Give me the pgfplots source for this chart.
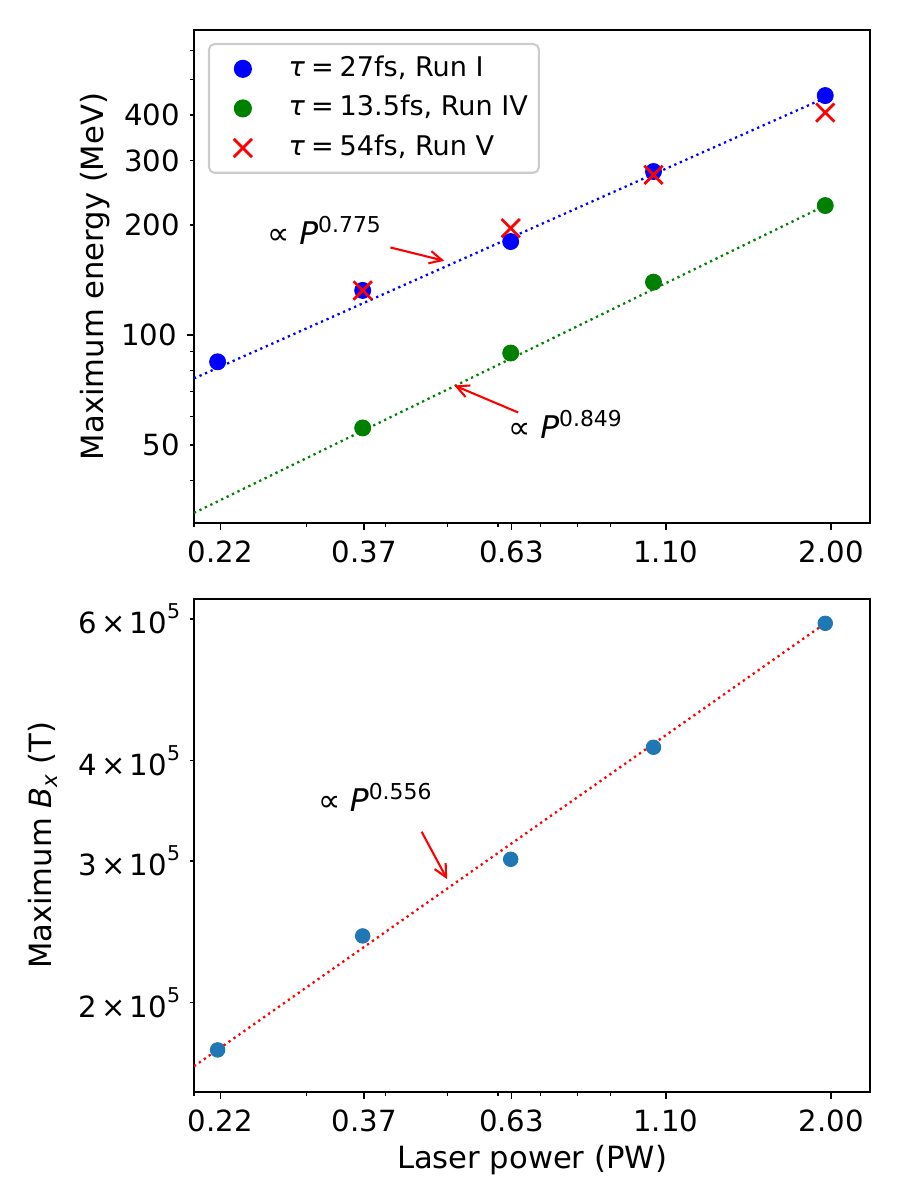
\documentclass[border=0pt]{standalone}
\usepackage{fontspec}
\setmainfont{DejaVu Sans}
\usepackage{pgfplots}
\pgfplotsset{compat=1.18}
\usetikzlibrary{arrows.meta}

\definecolor{mplgreen}{HTML}{008000}
\definecolor{mplblue}{HTML}{1F77B4}
\definecolor{legendedge}{HTML}{CCCCCC}

% raised / lowered small text for exponents and subscripts
\newcommand{\ticksup}[1]{\raisebox{0.5em}{\fontsize{9.8}{10}\selectfont #1}}
\newcommand{\annsup}[1]{\raisebox{0.4em}{\fontsize{10.5}{11}\selectfont #1}}
\newcommand{\ticksize}{\fontsize{14}{16.8}\selectfont}
\newcommand{\labelsize}{\fontsize{14.7}{17.6}\selectfont}
\newcommand{\notesize}{\fontsize{15}{18}\selectfont}

\tikzset{
  note arrow/.style={red, line width=1pt, -{Straight Barb[length=6pt,width=6pt]}},
  note/.style={font=\notesize, inner sep=0pt, anchor=base west},
}

\pgfplotsset{
  panel/.style={
    scale only axis, width=324.48pt, height=236.64pt,
    xmin=0.2, xmax=2.3,
    axis line style={line width=0.8pt},
    tick align=outside, tick pos=left,
    major tick length=3.5pt, minor tick length=2pt,
    tick style={black},
    major tick style={line width=0.8pt},
    minor tick style={line width=0.6pt},
    xtick={0.22,0.37,0.63,1.10,2.00},
    xticklabels={0.22,0.37,0.63,1.10,2.00},
    minor xtick={0.2,0.3,0.4,0.5,0.6,0.7,0.8,0.9},
    tick label style={font=\ticksize, inner sep=0pt},
    xticklabel shift=5pt, yticklabel shift=4.5pt,
    every axis x label/.style={at={(axis description cs:0.5,-0.1548)}, anchor=base, font=\labelsize, inner sep=0pt},
  },
  short labelled ticks/.style={
    major tick length=2pt, major tick style={line width=0.6pt},
  },
  fitline/.style={line width=1.1pt, dash pattern=on 1.1pt off 1.8pt, forget plot},
}

\begin{document}
\begin{tikzpicture}
\path[use as bounding box] (0,0) rectangle (432pt,576pt);

% ---- upper panel: maximum electron energy ----
\begin{loglogaxis}[panel,
  at={(93.12pt,324.96pt)}, anchor=south west,
  ymin=30.6, ymax=684,
  ytick={100}, yticklabels={100},
  extra y ticks={50,200,300,400},
  extra y tick labels={50,200,300,400},
  extra y tick style={short labelled ticks},
  minor ytick={40,60,70,80,90,500,600},
  ylabel={Maximum energy (MeV)},
  every axis y label/.style={at={(axis description cs:-0.1243,0.5)}, rotate=90, anchor=south, font=\labelsize, inner sep=0pt},
  legend style={
    at={(0.0207,0.9736)}, anchor=north west,
    font=\fontsize{13}{15.6}\selectfont,
    draw=legendedge, line width=1pt,
    fill=white, fill opacity=0.8, text opacity=1, draw opacity=1,
    rounded corners=2.6pt,
    inner xsep=3.24pt, inner ysep=3.4pt,
    column sep=7pt, row sep=2pt,
    nodes={inner sep=2pt, text height=10pt, text depth=3pt},
  },
  legend cell align=left,
  legend image code/.code={%
    \path[draw=none, fill=none] (0pt,-1pt) rectangle (26pt,1pt);
    \draw[fill opacity=1, draw opacity=1, mark repeat=2, mark phase=2, #1]
      plot coordinates {(0pt,0pt) (13pt,0pt) (26pt,0pt)};},
]
\addplot[only marks, mark=*, mark size=3.85pt, color=blue, mark options={fill=blue, draw=blue}]
  coordinates {(0.2178,84.5) (0.3679,132.5) (0.628,180.3) (1.052,280.3) (1.957,452.4)};
\addlegendentry{\textit{τ}\hspace{0.22em}=\hspace{0.22em}27fs, Run I}
\addplot[only marks, mark=*, mark size=3.85pt, color=mplgreen, mark options={fill=mplgreen, draw=mplgreen}]
  coordinates {(0.3679,55.7) (0.628,89.3) (1.052,139.6) (1.957,226.2)};
\addlegendentry{\textit{τ}\hspace{0.22em}=\hspace{0.22em}13.5fs, Run IV}
\addplot[only marks, mark=x, mark size=6.2pt, color=red, mark options={line width=1.3pt}]
  coordinates {(0.3679,132.5) (0.628,196.2) (1.052,274.5) (1.957,406.4)};
\addlegendentry{\textit{τ}\hspace{0.22em}=\hspace{0.22em}54fs, Run V}

% power-law fits
\addplot[fitline, color=blue] coordinates {(0.2,76.1) (1.957,445.9)};
\addplot[fitline, color=mplgreen] coordinates {(0.2,32.6) (1.957,226.2)};

\node[note] at (axis cs:0.2606,176.7) {∝\hspace{0.3em}\textit{P}\annsup{0.775}};
\draw[note arrow] (axis cs:0.4066,173.7) -- (axis cs:0.4940,159.7);
\node[note] at (axis cs:0.6223,52.04) {∝\hspace{0.3em}\textit{P}\annsup{0.849}};
\draw[note arrow] (axis cs:0.6452,61.4) -- (axis cs:0.5122,72.8);
\end{loglogaxis}

% ---- lower panel: maximum magnetic field ----
\begin{loglogaxis}[panel,
  at={(93.12pt,51.84pt)}, anchor=south west,
  ymin=1.549e5, ymax=6.353e5,
  ytick=\empty,
  extra y ticks={2e5,3e5,4e5,6e5},
  extra y tick labels={
    {2\hspace{0.15em}×\hspace{0.15em}10\ticksup{5}},
    {3\hspace{0.15em}×\hspace{0.15em}10\ticksup{5}},
    {4\hspace{0.15em}×\hspace{0.15em}10\ticksup{5}},
    {6\hspace{0.15em}×\hspace{0.15em}10\ticksup{5}}},
  extra y tick style={short labelled ticks},
  minor ytick={5e5},
  xlabel={Laser power (PW)},
  ylabel={Maximum \textit{B}\raisebox{-0.22em}{\fontsize{10.3}{10}\selectfont\textit{x}} (T)},
  every axis y label/.style={at={(axis description cs:-0.2007,0.5)}, rotate=90, anchor=south, font=\labelsize, inner sep=0pt},
]
\addplot[only marks, mark=*, mark size=3.5pt, color=mplblue, mark options={fill=mplblue, draw=mplblue}]
  coordinates {(0.2178,1.747e5) (0.3679,2.421e5) (0.628,3.015e5) (1.052,4.155e5) (1.957,5.925e5)};
\addplot[fitline, color=red] coordinates {(0.2,1.667e5) (1.957,5.925e5)};

\node[note] at (axis cs:0.3129,3.453e5) {∝\hspace{0.3em}\textit{P}\annsup{0.556}};
\draw[note arrow] (axis cs:0.4552,3.263e5) -- (axis cs:0.4992,2.848e5);
\end{loglogaxis}
\end{tikzpicture}
\end{document}
